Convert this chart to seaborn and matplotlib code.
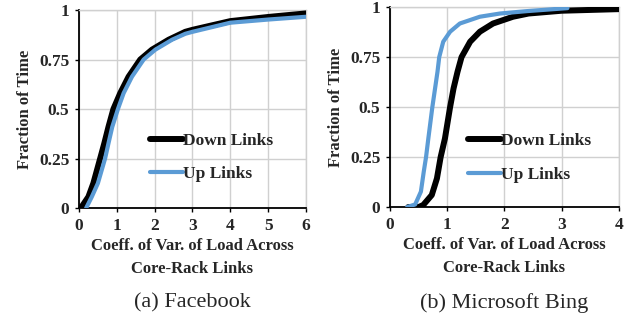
import pandas as pd
import seaborn as sns
import matplotlib.pyplot as plt

# CDF of coefficient of variation
fb_down_x = [0.05, 0.25, 0.38, 0.56, 0.67, 0.78, 0.91, 1.09, 1.31, 1.62, 1.93, 2.37, 2.81,
             3.0, 4.0, 5.0, 6.0]
fb_down_y = [0.0, 0.057, 0.125, 0.25, 0.327, 0.41, 0.5, 0.58, 0.663, 0.75, 0.8, 0.85, 0.89,
             0.9, 0.944, 0.965, 0.983]
fb_up_x = [0.19, 0.34, 0.5, 0.69, 0.78, 0.88, 1.03, 1.18, 1.4, 1.71, 2.02, 2.46, 2.81,
           3.0, 4.0, 5.0, 6.0]
fb_up_y = [0.0, 0.057, 0.125, 0.25, 0.327, 0.41, 0.5, 0.58, 0.663, 0.75, 0.8, 0.85, 0.88,
           0.89, 0.936, 0.952, 0.966]

bing_down_x = [0.32, 0.5, 0.58, 0.73, 0.82, 0.885, 0.96, 1.05, 1.11, 1.18, 1.25, 1.40, 1.57,
               1.80, 2.15, 2.42, 3.0, 4.0]
bing_down_y = [0.0, 0.0, 0.01, 0.06, 0.143, 0.25, 0.343, 0.5, 0.593, 0.677, 0.75, 0.827, 0.877,
               0.918, 0.952, 0.968, 0.982, 0.99]
bing_up_x = [0.3, 0.44, 0.54, 0.59, 0.63, 0.67, 0.74, 0.83, 0.86, 0.93, 1.05, 1.22, 1.57,
             1.92, 2.39, 3.1]
bing_up_y = [0.0, 0.013, 0.077, 0.177, 0.25, 0.343, 0.5, 0.677, 0.75, 0.827, 0.877, 0.918, 0.952,
             0.968, 0.98, 0.995]

labels = ['Down Links', 'Up Links']
colors = {'Down Links': 'black', 'Up Links': '#5B9BD5'}
widths = {'Down Links': 4.3, 'Up Links': 3.0}


def make_df(dx, dy, ux, uy):
    d = pd.DataFrame({'x': dx, 'y': dy, 'series': labels[0]})
    u = pd.DataFrame({'x': ux, 'y': uy, 'series': labels[1]})
    return pd.concat([d, u], ignore_index=True)


sns.set_style('white')
plt.rcParams['font.family'] = ['Liberation Serif', 'DejaVu Serif']

fig = plt.figure(figsize=(6.39, 3.24), dpi=100)
ax1 = fig.add_axes([0.1236, 0.358, 0.3552, 0.611])
ax2 = fig.add_axes([0.6103, 0.361, 0.3584, 0.617])

panels = [
    (ax1, make_df(fb_down_x, fb_down_y, fb_up_x, fb_up_y), 6, '(a) Facebook', (0.313, 0.255)),
    (ax2, make_df(bing_down_x, bing_down_y, bing_up_x, bing_up_y), 4, '(b) Microsoft Bing', (0.34, 0.245)),
]

for ax, df, xmax, caption, lpos in panels:
    for s in labels:
        sub = df[df.series == s]
        sns.lineplot(data=sub, x='x', y='y', ax=ax, color=colors[s], lw=widths[s],
                     label=s, solid_capstyle='round', solid_joinstyle='round',
                     clip_on=True, zorder=3)
    ax.set_xlim(0, xmax)
    ax.set_ylim(0, 1)
    ax.set_xticks(range(0, xmax + 1))
    ax.set_yticks([0, 0.25, 0.5, 0.75, 1])
    ax.set_yticklabels(['0', '0.25', '0.5', '0.75', '1'])
    ax.grid(True, color='#d0d0d0', lw=1.0)
    for side in ['top', 'right']:
        ax.spines[side].set_color('#d0d0d0')
        ax.spines[side].set_linewidth(1.0)
    for side in ['left', 'bottom']:
        ax.spines[side].set_color('black')
        ax.spines[side].set_linewidth(1.3)
    ax.tick_params(axis='both', direction='out', length=3, width=1.0, color='black',
                   labelsize=12.5, pad=4, left=True, bottom=True)
    for t in ax.get_xticklabels() + ax.get_yticklabels():
        t.set_fontweight('bold')
    ax.set_xlabel('Coeff. of Var. of Load Across\nCore-Rack Links', fontsize=12,
                  fontweight='bold', labelpad=3, linespacing=1.6)
    ax.set_ylabel('Fraction of Time', fontsize=12, fontweight='bold', labelpad=4)
    ax.legend(loc='center left', bbox_to_anchor=lpos, frameon=False,
              prop={'size': 12.5, 'weight': 'bold'}, handlelength=1.9,
              handletextpad=0.0, labelspacing=1.0, borderaxespad=0, borderpad=0)
    ax.text(0.5, -0.48, caption, transform=ax.transAxes, ha='center', va='center', fontsize=16)

plt.savefig('out.png', dpi=100)
